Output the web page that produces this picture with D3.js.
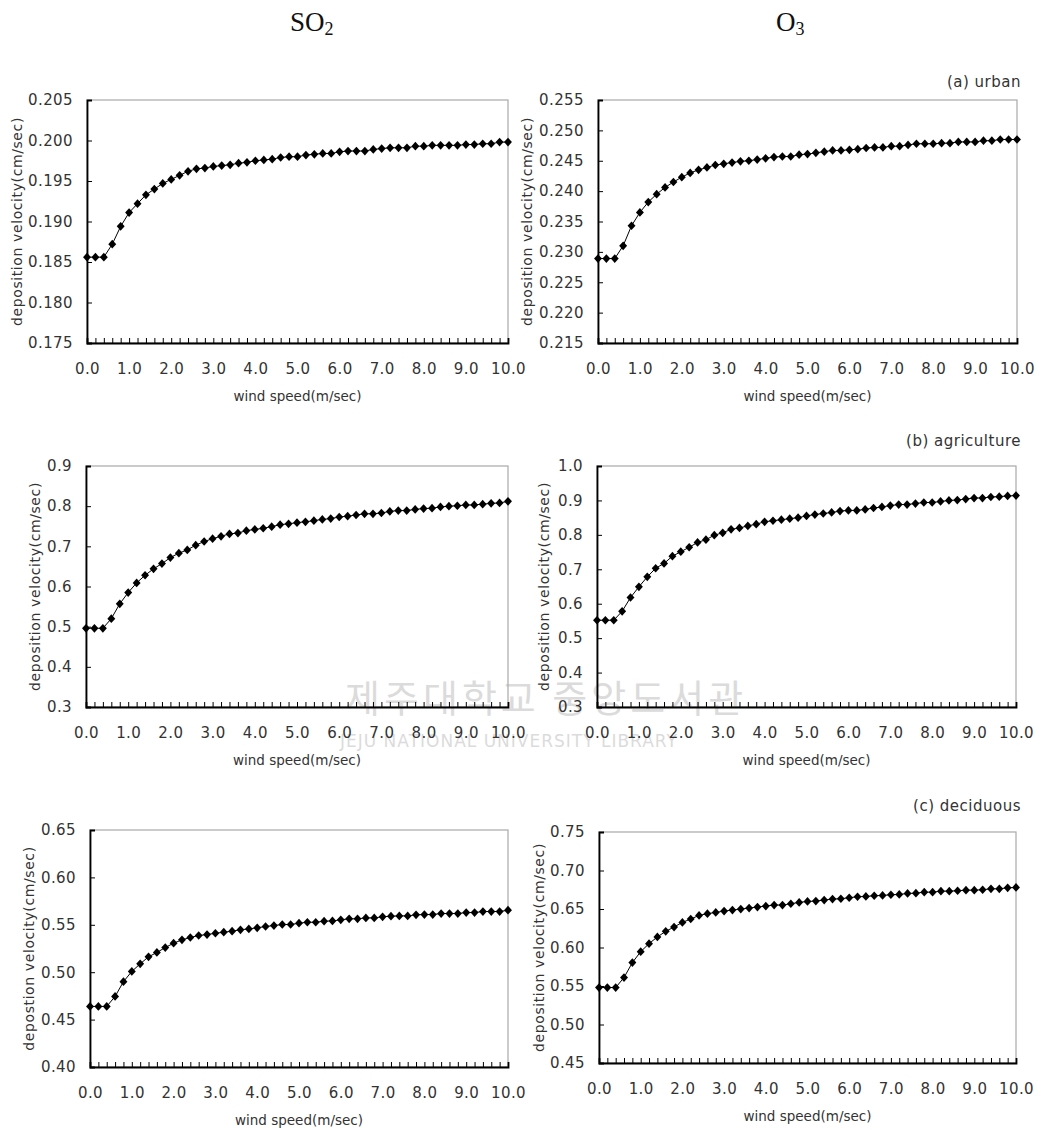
<!DOCTYPE html>
<html>
<head>
<meta charset="utf-8">
<script src="https://cdn.jsdelivr.net/npm/d3@7"></script>
<style>
  body { margin: 0; background: #fff; }
  svg text { font-family: "DejaVu Sans", "Liberation Sans", sans-serif; fill: #333; }
  .axis path, .axis line { stroke: #000; }
</style>
</head>
<body>
<div id="chart"></div>
<script>
// wind speed (m/sec), one point every 0.2
const windSpeed = [0.0,0.2,0.4,0.6,0.8,1.0,1.2,1.4,1.6,1.8,2.0,2.2,2.4,2.6,2.8,3.0,3.2,3.4,3.6,3.8,
  4.0,4.2,4.4,4.6,4.8,5.0,5.2,5.4,5.6,5.8,6.0,6.2,6.4,6.6,6.8,7.0,7.2,7.4,7.6,7.8,
  8.0,8.2,8.4,8.6,8.8,9.0,9.2,9.4,9.6,9.8,10.0];

const xTickLabels = [0, 1, 2, 3, 4, 5, 6, 7, 8, 9, 10];

// deposition velocity (cm/sec)
const so2Urban = [0.1856,0.1856,0.1856,0.1872,0.1894,0.1911,0.1922,0.1933,0.1940,0.1947,
  0.1952,0.1957,0.1962,0.1965,0.1966,0.1968,0.1969,0.1970,0.1972,0.1973,
  0.1975,0.1976,0.1977,0.1979,0.1980,0.1980,0.1982,0.1983,0.1984,0.1984,
  0.1986,0.1987,0.1987,0.1987,0.1989,0.1990,0.1991,0.1991,0.1991,0.1993,
  0.1993,0.1994,0.1994,0.1994,0.1994,0.1995,0.1995,0.1996,0.1996,0.1998,0.1998];

const o3Urban = [0.2289,0.2289,0.2289,0.2310,0.2343,0.2365,0.2382,0.2395,0.2406,0.2415,
  0.2423,0.2430,0.2435,0.2439,0.2443,0.2445,0.2447,0.2449,0.2450,0.2452,
  0.2454,0.2456,0.2457,0.2457,0.2460,0.2461,0.2463,0.2465,0.2467,0.2467,
  0.2468,0.2469,0.2471,0.2472,0.2472,0.2474,0.2474,0.2476,0.2478,0.2478,
  0.2478,0.2479,0.2479,0.2481,0.2481,0.2481,0.2483,0.2483,0.2485,0.2485,0.2485];

const so2Agri = [0.496,0.496,0.496,0.520,0.557,0.585,0.609,0.628,0.644,0.657,
  0.672,0.683,0.691,0.703,0.712,0.719,0.725,0.731,0.733,0.739,
  0.742,0.745,0.749,0.754,0.756,0.759,0.761,0.764,0.767,0.769,
  0.773,0.775,0.778,0.781,0.781,0.783,0.787,0.789,0.789,0.792,
  0.794,0.795,0.798,0.800,0.801,0.803,0.803,0.805,0.807,0.808,0.812];

const o3Agri = [0.552,0.552,0.552,0.578,0.618,0.649,0.678,0.703,0.717,0.738,
  0.751,0.764,0.778,0.786,0.799,0.806,0.816,0.820,0.826,0.831,
  0.838,0.841,0.844,0.847,0.850,0.855,0.859,0.862,0.865,0.869,
  0.871,0.871,0.874,0.878,0.881,0.885,0.888,0.888,0.891,0.894,
  0.894,0.897,0.900,0.901,0.904,0.907,0.907,0.910,0.911,0.913,0.914];

const so2Decid = [0.4639,0.4639,0.4639,0.4744,0.4900,0.5008,0.5088,0.5162,0.5208,0.5260,
  0.5306,0.5341,0.5366,0.5387,0.5397,0.5411,0.5422,0.5433,0.5447,0.5457,
  0.5468,0.5482,0.5492,0.5503,0.5503,0.5517,0.5527,0.5527,0.5538,0.5541,
  0.5552,0.5563,0.5563,0.5573,0.5573,0.5584,0.5591,0.5594,0.5594,0.5605,
  0.5608,0.5608,0.5619,0.5619,0.5619,0.5629,0.5629,0.5640,0.5640,0.5640,0.5654];

const o3Decid = [0.548,0.548,0.548,0.5610,0.5804,0.5946,0.6050,0.6137,0.6210,0.6266,
  0.6326,0.6370,0.6417,0.6439,0.6456,0.6473,0.6486,0.6499,0.6512,0.6525,
  0.6538,0.6551,0.6551,0.6568,0.6586,0.6598,0.6603,0.6616,0.6629,0.6633,
  0.6646,0.6659,0.6663,0.6672,0.6676,0.6685,0.6689,0.6702,0.6706,0.6719,
  0.6719,0.6732,0.6732,0.6737,0.6745,0.6745,0.6750,0.6762,0.6762,0.6775,0.6780];

// y ticks per panel
const yTicksSo2Urban = [0.175, 0.180, 0.185, 0.190, 0.195, 0.200, 0.205];
const yTicksO3Urban = [0.215, 0.220, 0.225, 0.230, 0.235, 0.240, 0.245, 0.250, 0.255];
const yTicksSo2Agri = [0.3, 0.4, 0.5, 0.6, 0.7, 0.8, 0.9];
const yTicksO3Agri = [0.3, 0.4, 0.5, 0.6, 0.7, 0.8, 0.9, 1.0];
const yTicksSo2Decid = [0.40, 0.45, 0.50, 0.55, 0.60, 0.65];
const yTicksO3Decid = [0.45, 0.50, 0.55, 0.60, 0.65, 0.70, 0.75];

const columnTitles = ["SO", "O"];
const columnSubs = ["2", "3"];
const rowLabels = ["(a) urban", "(b) agriculture", "(c) deciduous"];

const panels = [
  {values: so2Urban, ticks: yTicksSo2Urban, fmt: ".3f", ytitle: "deposition velocity(cm/sec)",
   left: 87, right: 508, top: 100, bottom: 343, ytx: 17},
  {values: o3Urban, ticks: yTicksO3Urban, fmt: ".3f", ytitle: "deposition velocity(cm/sec)",
   left: 598, right: 1017, top: 100, bottom: 343, ytx: 527},
  {values: so2Agri, ticks: yTicksSo2Agri, fmt: ".1f", ytitle: "deposition velocity(cm/sec)",
   left: 86, right: 508, top: 466, bottom: 707, ytx: 35},
  {values: o3Agri, ticks: yTicksO3Agri, fmt: ".1f", ytitle: "deposition velocity(cm/sec)",
   left: 597, right: 1016, top: 466, bottom: 707, ytx: 544},
  {values: so2Decid, ticks: yTicksSo2Decid, fmt: ".2f", ytitle: "depostion velocity(cm/sec)",
   left: 90, right: 508, top: 830, bottom: 1067, ytx: 29},
  {values: o3Decid, ticks: yTicksO3Decid, fmt: ".2f", ytitle: "deposition velocity(cm/sec)",
   left: 599, right: 1016, top: 832, bottom: 1063, ytx: 539}
];

const W = 1045, H = 1130;

const svg = d3.select("#chart").append("svg")
  .attr("width", W)
  .attr("height", H);

svg.append("rect").attr("width", W).attr("height", H).attr("fill", "#fff");

// faint library watermark
const wm = svg.append("g").attr("opacity", 0.3);
wm.append("text")
  .attr("x", 345).attr("y", 712)
  .style("font-family", "'Noto Sans CJK KR', sans-serif")
  .style("font-size", "38px")
  .style("fill", "#8a8a8a")
  .style("letter-spacing", "4px")
  .text("제주대학교 중앙도서관");
wm.append("text")
  .attr("x", 340).attr("y", 747)
  .style("font-size", "17px")
  .style("fill", "#8a8a8a")
  .style("letter-spacing", "1px")
  .text("JEJU NATIONAL UNIVERSITY LIBRARY");

// column titles
const titleX = [290, 776];
columnTitles.forEach((t, i) => {
  const tt = svg.append("text")
    .attr("x", titleX[i]).attr("y", 31)
    .style("font-family", "'Liberation Serif', 'DejaVu Serif', serif")
    .style("font-size", "27px")
    .style("fill", "#111")
    .text(t);
  tt.append("tspan")
    .attr("dy", 4)
    .style("font-size", "18px")
    .text(columnSubs[i]);
});

// row labels (right side, above each row)
const rowLabelY = [87, 446, 811];
rowLabels.forEach((t, i) => {
  svg.append("text")
    .attr("x", 1021).attr("y", rowLabelY[i])
    .attr("text-anchor", "end")
    .style("font-size", "15px")
    .style("letter-spacing", "0.5px")
    .text(t);
});

const diamond = d3.symbol().type(d3.symbolDiamond2).size(40);

panels.forEach(p => {
  const x = d3.scaleLinear().domain([0, 10]).range([p.left, p.right]);
  const y = d3.scaleLinear().domain(d3.extent(p.ticks)).range([p.bottom, p.top]);

  const g = svg.append("g");

  // light frame on top and right
  g.append("rect")
    .attr("x", p.left).attr("y", p.top)
    .attr("width", p.right - p.left).attr("height", p.bottom - p.top)
    .attr("fill", "none")
    .attr("stroke", "#a8a8a8")
    .attr("stroke-width", 1.2);

  // x axis: minor ticks every 0.2 pointing in, labels every 1.0
  g.append("g")
    .attr("class", "axis")
    .attr("transform", `translate(0,${p.bottom})`)
    .call(d3.axisBottom(x).tickValues(windSpeed).tickSize(-5).tickFormat(""))
    .call(a => a.select(".domain").attr("stroke-width", 1.8))
    .call(a => a.selectAll(".tick line").attr("stroke-width", 1));

  g.append("g")
    .attr("transform", `translate(0,${p.bottom})`)
    .call(d3.axisBottom(x).tickValues(xTickLabels).tickSize(0).tickPadding(20).tickFormat(d3.format(".1f")))
    .call(a => a.select(".domain").remove())
    .call(a => a.selectAll("text")
      .style("font-size", "15px")
      .style("letter-spacing", "0.4px")
      .style("font-family", "'DejaVu Sans', sans-serif")
      .attr("fill", "#333"));

  // y axis
  g.append("g")
    .attr("class", "axis")
    .attr("transform", `translate(${p.left},0)`)
    .call(d3.axisLeft(y).tickValues(p.ticks).tickSize(-5).tickPadding(14).tickFormat(d3.format(p.fmt)))
    .call(a => a.select(".domain").attr("stroke-width", 1.8))
    .call(a => a.selectAll("text")
      .style("font-size", "15px")
      .style("letter-spacing", "0.4px")
      .style("font-family", "'DejaVu Sans', sans-serif")
      .attr("fill", "#333"));

  // axis titles
  g.append("text")
    .attr("x", (p.left + p.right) / 2)
    .attr("y", p.bottom + 58)
    .attr("text-anchor", "middle")
    .style("font-size", "13.5px")
    .text("wind speed(m/sec)");

  g.append("text")
    .attr("transform", `translate(${p.ytx},${(p.top + p.bottom) / 2}) rotate(-90)`)
    .attr("text-anchor", "middle")
    .attr("dy", "0.35em")
    .style("font-size", "14px")
    .style("letter-spacing", "0.6px")
    .text(p.ytitle);

  // series line + diamond markers
  const pts = windSpeed.map((w, i) => [w, p.values[i]]);

  g.append("path")
    .datum(pts)
    .attr("fill", "none")
    .attr("stroke", "#000")
    .attr("stroke-width", 1)
    .attr("d", d3.line().x(d => x(d[0])).y(d => y(d[1])));

  g.selectAll(".marker")
    .data(pts)
    .enter().append("path")
    .attr("class", "marker")
    .attr("transform", d => `translate(${x(d[0])},${y(d[1])}) scale(1,1.1)`)
    .attr("d", diamond)
    .attr("fill", "#000");
});
</script>
</body>
</html>
